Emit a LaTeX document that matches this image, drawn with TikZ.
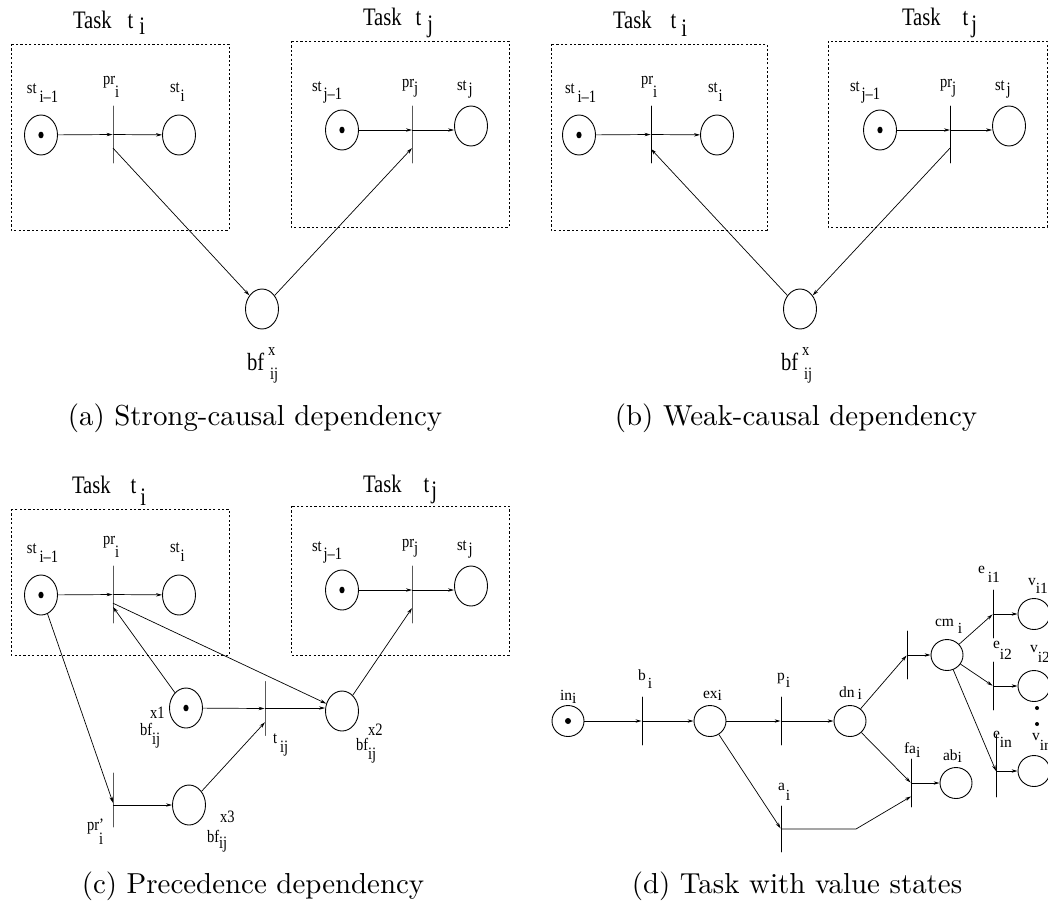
\documentclass[tikz,border=0pt]{standalone}
\usepackage{fontspec}
\usepackage{graphicx}
\usetikzlibrary{arrows.meta,shapes.geometric,calc}
\newfontfamily\tms{Liberation Serif}
% net labels (slightly tall), task titles, labels of the value-state net
\newcommand\pl[1]{\scalebox{1}[1.2]{\tms\fontsize{14.5}{16}\selectfont #1}}
\newcommand\tk[1]{\scalebox{1}[1.22]{\tms\fontsize{20.6}{24}\selectfont #1}}
\newcommand\dl[1]{{\tms\fontsize{15.5}{18}\selectfont #1}}
\newcommand\lowr[2]{\raisebox{-#1}{#2}}
\newcommand\smallidx[1]{{\fontsize{14.5}{16}\selectfont #1}}
\tikzset{
  place/.style={draw, ellipse, line width=0.9pt, minimum width=33pt, minimum height=40pt, inner sep=0pt},
  dplace/.style={place, minimum width=32pt, minimum height=31pt},
  marked/.style={path picture={\fill (path picture bounding box.center) ellipse [x radius=2.6pt, y radius=3.3pt];}},
  dmarked/.style={path picture={\fill (path picture bounding box.center) circle (3pt);}},
  trans/.style={draw, rectangle, line width=0.9pt, minimum width=0pt, minimum height=#1, inner sep=0pt},
  trans/.default=57pt,
  flow/.style={-{Stealth[length=6pt,width=3.4pt]}, line width=0.7pt},
  taskbox/.style={line width=0.8pt, dash pattern=on 2.2pt off 2.2pt},
  lab/.style={anchor=base west, inner sep=0pt, outer sep=0pt},
  captext/.style={anchor=base, inner sep=0pt}
}
\begin{document}
\begin{tikzpicture}[x=1pt, y=-1pt, line join=round]
\useasboundingbox (0,0) rectangle (1048,903);

% the two tasks, common to panels (a), (b) and (c)
\foreach \p/\dx/\dy in {a/0/0, b/538/0, c/0/460} {
  \begin{scope}[shift={(\dx,\dy)}]
    \node[place, marked] (\p stim) at (41,135) {};
    \node[trans] (\p pri) at (113,134.5) {};
    \node[place] (\p sti) at (179,135) {};
    \node[place, marked] (\p stjm) at (342,130) {};
    \node[trans] (\p prj) at (412,134.5) {};
    \node[place] (\p stj) at (471,126) {};
    \draw[flow] (\p stim) -- (\p pri);
    \draw[flow] (\p pri) -- (\p sti);
    \draw[flow] (\p stjm) -- (\p stjm -| \p prj);
    \draw[flow] (\p stjm -| \p prj) -- (\p stjm -| \p stj.west);
    \node[lab] (\p lstim) at (27,93) {\pl{st\hspace{3pt}\lowr{8pt}{i–1}}};
    \node[lab] (\p lpri) at (103,84) {\pl{pr\lowr{11pt}{i}}};
    \node[lab] (\p lsti) at (170,92) {\pl{st\hspace{1pt}\lowr{8pt}{i}}};
    \node[lab] (\p lstjm) at (312,91) {\pl{st\hspace{2pt}\lowr{7pt}{j–1}}};
    \node[lab] (\p lprj) at (402,87) {\pl{pr\lowr{5pt}{j}}};
    \node[lab] (\p lstj) at (457,90) {\pl{st\hspace{2pt}\lowr{4pt}{j}}};
  \end{scope}
}

% (a) strong-causal dependency
\draw[taskbox] (11,44) rectangle (229,230);
\draw[taskbox] (291,41) rectangle (509,227);
\node[lab] (ati) at (73,28) {\tk{Task\hspace{16pt}t\hspace{6pt}\lowr{5pt}{i}}};
\node[lab] (atj) at (363,25) {\tk{Task\hspace{14pt}t\hspace{6pt}\lowr{6pt}{j}}};
\node[place] (abf) at (262,309) {};
\draw[flow] ($(apri.center)!0.47!(apri.south)$) -- (abf);
\draw[flow] (abf) -- ($(aprj.center)!0.47!(aprj.south)$);
\node[lab] (albf) at (247,370) {\scalebox{1}[1.2]{\tms\fontsize{20.6}{24}\selectfont bf\rlap{\hspace{4pt}\raisebox{12.5pt}{\smallidx{x}}}\hspace{6pt}\raisebox{-8pt}{\smallidx{ij}}}};
\node[captext] (capa) at (255,425) {\scalebox{2.89}{(a) Strong-causal dependency}};

% (b) weak-causal dependency
\draw[taskbox] (551,44) rectangle (767,230);
\draw[taskbox] (828,41) rectangle (1047,227);
\node[lab] (bti) at (613,28) {\tk{Task\hspace{19pt}t\hspace{5pt}\lowr{7pt}{i}}};
\node[lab] (btj) at (902,25) {\tk{Task\hspace{22pt}t\hspace{3pt}\lowr{6pt}{j}}};
\node[place] (bbf) at (800,309) {};
\draw[flow] (bbf) -- ($(bpri.center)!0.5!(bpri.south)$);
\draw[flow] ($(bprj.center)!0.47!(bprj.south)$) -- (bbf);
\node[lab] (blbf) at (781,370) {\scalebox{1}[1.2]{\tms\fontsize{20.6}{24}\selectfont bf\rlap{\hspace{4pt}\raisebox{12.5pt}{\smallidx{x}}}\hspace{6pt}\raisebox{-8pt}{\smallidx{ij}}}};
\node[captext] (capb) at (796,425) {\scalebox{2.89}{(b) Weak-causal dependency}};

% (c) precedence dependency
\draw[taskbox] (11,509) rectangle (229,655);
\draw[taskbox] (291,506) rectangle (509,655);
\node[lab] (cti) at (72,493) {\tk{Task\hspace{20pt}t\hspace{4pt}\lowr{10pt}{i}}};
\node[lab] (ctj) at (363,492) {\tk{Task\hspace{22pt}t\hspace{2pt}\lowr{5pt}{j}}};
\node[place, marked] (cx1) at (186,708) {};
\node[trans=54pt] (ctij) at (265,708.5) {};
\node[place] (cx2) at (342,711) {};
\node[trans=54pt] (cprp) at (113,800) {};
\node[place] (cx3) at (189,805) {};
\draw[flow] (cstim) -- ($(cprp.center)!0.1!(cprp.south)$);
\draw[flow] (cx3 -| cprp) -- (cx3);
\draw[flow] (cx3) -- ($(ctij.center)!0.5!(ctij.south)$);
\draw[flow] (cx1) -- ($(cpri.center)!0.43!(cpri.south)$);
\draw[flow] ($(cpri.center)!0.3!(cpri.south)$) -- (cx2);
\draw[flow] (cx1) -- (ctij);
\draw[flow] (cx1 -| ctij) -- (cx1 -| cx2.west);
\draw[flow] (cx2) -- ($(cprj.center)!0.47!(cprj.south)$);
\node[lab] (clx1) at (140,735) {\pl{bf\rlap{\hspace{-2pt}\raisebox{14pt}{x1}}\raisebox{-8pt}{ij}}};
\node[lab] (clx2) at (356,750) {\pl{bf\rlap{\raisebox{12.5pt}{x2}}\raisebox{-8pt}{ij}}};
\node[lab] (clx3) at (207,842) {\pl{bf\rlap{\hspace{1pt}\raisebox{16.5pt}{x3}}\raisebox{-5pt}{ij}}};
\node[lab] (cltij) at (273,743) {\pl{t\hspace{3pt}\raisebox{-7.5pt}{ij}}};
\node[lab] (clprp) at (87,830) {\pl{pr\rlap{’}\raisebox{-12pt}{i}}};
\node[captext] (capc) at (253,893) {\scalebox{2.89}{(c) Precedence dependency}};

% (d) task with value states
\node[dplace, dmarked] (din) at (568,721) {};
\node[trans=48pt] (dbi) at (642,721) {};
\node[dplace] (dex) at (710,721) {};
\node[trans=48pt] (dpi) at (781,721) {};
\node[dplace] (ddn) at (850,721) {};
\node[trans=48pt] (dtu) at (907,655) {};
\node[dplace] (dcm) at (947,655) {};
\node[trans=48pt] (de1) at (993,614) {};
\node[dplace] (dv1) at (1034,614) {};
\node[trans=48pt] (de2) at (993,686) {};
\node[dplace] (dv2) at (1034,686) {};
\node[trans=62pt] (den) at (996,766) {};
\node[dplace] (dvn) at (1034,771) {};
\node[trans=48pt] (dfa) at (911,783) {};
\node[dplace] (dab) at (956,783) {};
\node[trans=46pt] (dai) at (781,829) {};
\coordinate (dbend) at (856,829);
\draw[flow] (din) -- (dbi);
\draw[flow] (dbi) -- (dex);
\draw[flow] (dex) -- (dpi);
\draw[flow] (dpi) -- (ddn);
\draw[flow] (ddn) -- (dtu);
\draw[flow] (dtu) -- (dcm);
\draw[flow] (dcm) -- (de1);
\draw[flow] (de1) -- (dv1);
\draw[flow] (dcm) -- (de2);
\draw[flow] (de2) -- (dv2);
\draw[flow] (dcm) -- (dvn -| den);
\draw[flow] (dvn -| den) -- (dvn);
\draw[flow] (ddn) -- (dfa);
\draw[flow] (dfa) -- (dab);
\draw[flow] (dex) -- (dai);
\draw[flow] (dai) -- (dbend) -- ($(dfa.center)!0.55!(dfa.south)$);
\fill (1037,708) circle (2pt);
\fill (1037,724) circle (2pt);
\node[lab] (dlin) at (560,700) {\dl{in\lowr{3pt}{i}}};
\node[lab] (dlbi) at (638,680) {\dl{b\hspace{2pt}\lowr{8pt}{i}}};
\node[lab] (dlex) at (703,698) {\dl{ex\lowr{2pt}{i}}};
\node[lab] (dlpi) at (777,680) {\dl{p\hspace{1pt}\lowr{7pt}{i}}};
\node[lab] (dldn) at (839,697) {\dl{dn\hspace{3pt}\lowr{2pt}{i}}};
\node[lab] (dlcm) at (935,626) {\dl{cm\hspace{4pt}\lowr{7pt}{i}}};
\node[lab] (dle1) at (978,573) {\dl{e\hspace{3pt}\lowr{9pt}{i1}}};
\node[lab] (dlv1) at (1028,585) {\dl{v\lowr{8pt}{i1}}};
\node[lab] (dle2) at (993,648) {\dl{e\lowr{11pt}{i2}}};
\node[lab] (dlv2) at (1030,652) {\dl{v\lowr{10pt}{i2}}};
\node[lab] (dlen) at (993,738) {\dl{e\lowr{9pt}{in}}};
\node[lab] (dlvn) at (1032,740) {\dl{v\lowr{10pt}{in}}};
\node[lab] (dlfa) at (904,753) {\dl{fa\lowr{4pt}{i}}};
\node[lab] (dlab) at (943,760) {\dl{ab\lowr{2pt}{i}}};
\node[lab] (dlai) at (778,790) {\dl{a\hspace{1pt}\lowr{10pt}{i}}};
\node[captext] (capd) at (797,893) {\scalebox{2.89}{(d) Task with value states}};
\end{tikzpicture}
\end{document}
